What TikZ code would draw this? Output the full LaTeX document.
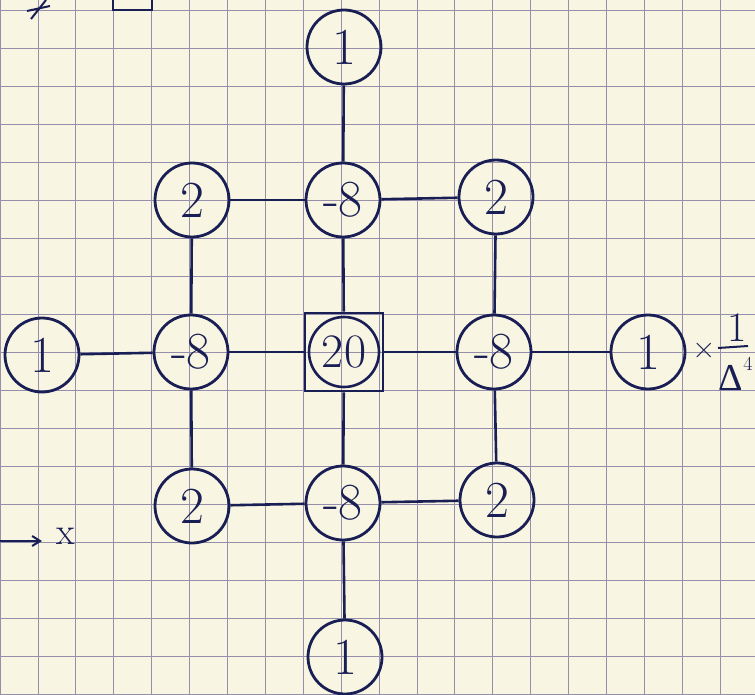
\documentclass[tikz,border=0pt]{standalone}
\usepackage{fontspec}
\newfontfamily\grk{Liberation Serif}
\usetikzlibrary{arrows.meta}
\definecolor{paper}{RGB}{248,245,226}
\definecolor{gridc}{RGB}{150,143,172}
\definecolor{ink}{RGB}{25,30,85}
\begin{document}
\begin{tikzpicture}[x=1pt,y=-1pt,
  val/.style={circle,draw=ink,line width=2.8pt,minimum size=74pt,inner sep=0pt,
    text=ink,font=\fontsize{52}{56}\selectfont},
  sq/.style={rectangle,draw=ink,line width=2.6pt,minimum size=78pt,inner sep=0pt,
    text=ink,font=\fontsize{48}{52}\selectfont},
  wire/.style={draw=ink,line width=2.6pt},
  note/.style={text=ink,inner sep=0pt}]
\useasboundingbox (0,0) rectangle (755,695);
\fill[paper] (0,0) rectangle (755,695);
% graph paper
\foreach \i in {0,...,19} {\draw[gridc,line width=0.8pt] ({\i*37.9},0) -- ({\i*37.9},695);}
\foreach \j in {0,...,18} {\draw[gridc,line width=0.8pt] (0,{10+\j*38}) -- (755,{10+\j*38});}
% nodes
\node[val] (t1) at (344,47) {1};
\node[val] (a2) at (192,200) {2};
\node[val] (a8) at (343,200) {-8};
\node[val] (a2r) at (496,197) {2};
\node[val] (l1) at (42,355) {1};
\node[val] (l8) at (191,352) {-8};
\node[sq] (c) at (344,352) {20};
\draw[ink,line width=2.6pt] (c.center) circle (35);
\node[val] (r8) at (494,352) {-8};
\node[val] (r1) at (648,352) {1};
\node[val] (b2) at (192,506) {2};
\node[val] (b8) at (343,503) {-8};
\node[val] (b2r) at (497,500) {2};
\node[val] (bt1) at (345,657) {1};
% connectors
\draw[wire] (t1) -- (a8);
\draw[wire] (a8) -- (c);
\draw[wire] (c) -- (b8);
\draw[wire] (b8) -- (bt1);
\draw[wire] (l1) -- (l8);
\draw[wire] (l8) -- (c);
\draw[wire] (c) -- (r8);
\draw[wire] (r8) -- (r1);
\draw[wire] (a2) -- (a8);
\draw[wire] (a8) -- (a2r);
\draw[wire] (b2) -- (b8);
\draw[wire] (b8) -- (b2r);
\draw[wire] (a2) -- (l8);
\draw[wire] (l8) -- (b2);
\draw[wire] (a2r) -- (r8);
\draw[wire] (r8) -- (b2r);
% factor
\node[note,font=\fontsize{32}{34}\selectfont] (times) at (704,351) {×};
\node[note,font=\fontsize{42}{44}\selectfont] (one) at (737,328) {1};
\coordinate (fa) at (718,348);
\coordinate (fb) at (748,346);
\draw[ink,line width=2pt] (fa) -- (fb);
\node[note,font=\grk\fontsize{38}{40}\selectfont] (del) at (731,378) {Δ};
\node[note,font=\fontsize{20}{22}\selectfont] (four) at (748,364) {4};
% axis hint
\coordinate (ax0) at (0,541);
\coordinate (ax1) at (42,541);
\draw[ink,line width=2pt,-{Straight Barb[length=8pt,width=10pt]}] (ax0) -- (ax1);
\node[note,font=\fontsize{38}{40}\selectfont] (xl) at (66,536) {x};
% fragments at top
\draw[ink,line width=2.2pt] (113,0) -- (113,10) -- (152,10) -- (152,0);
\draw[ink,line width=2pt] (27,11) -- (50,6);
\draw[ink,line width=2pt] (31,19) -- (46,0);
\end{tikzpicture}
\end{document}
